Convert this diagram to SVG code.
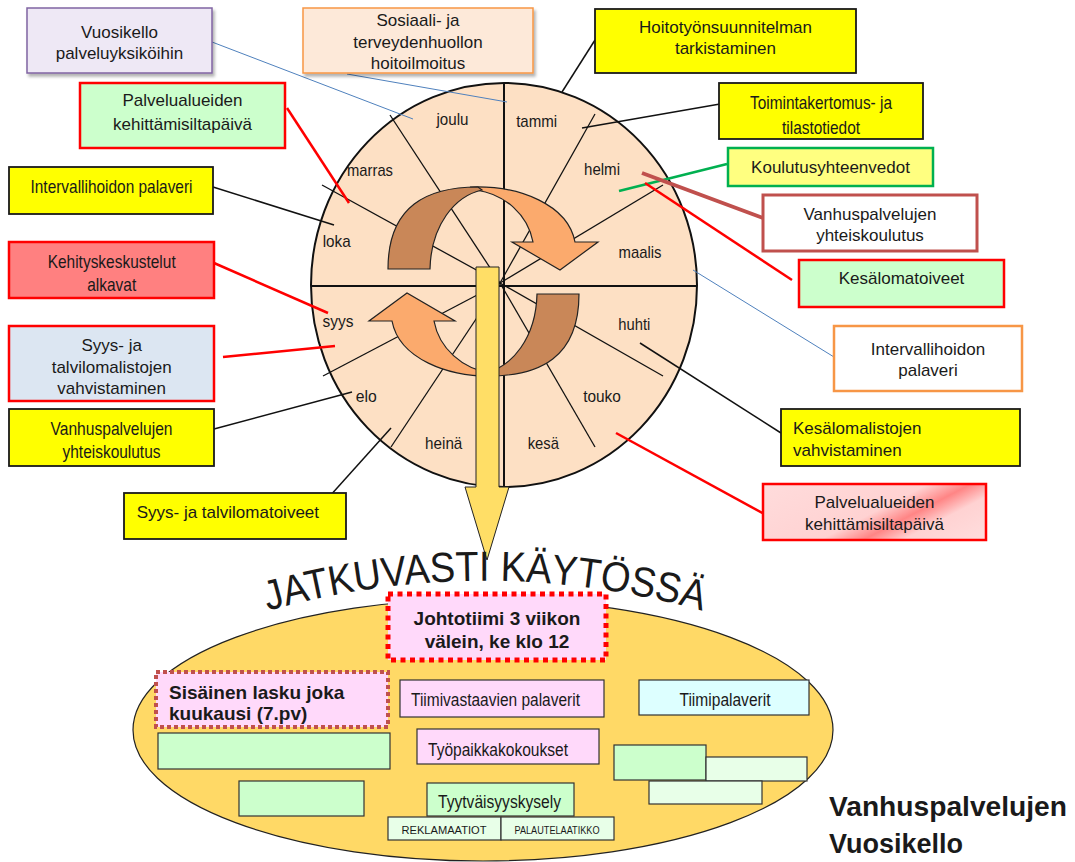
<svg xmlns="http://www.w3.org/2000/svg" width="1075" height="862" viewBox="0 0 1075 862">
<defs>
<style>
text{font-family:"Liberation Sans",Arial,sans-serif;fill:#1a1a1a}
.t{font-size:17px}
.c{text-anchor:middle}
.m{font-size:17px;text-anchor:middle}
.b{font-weight:bold}
.yb{fill:#FFFF00;stroke:#1a1a1a;stroke-width:1.8}
.rb{stroke:#FF0000;stroke-width:2.5}
.sp{stroke:#111;stroke-width:1.3;fill:none}
.k{stroke:#111;stroke-width:1.5;fill:none}
.bl{stroke:#4F81BD;stroke-width:1;fill:none}
.rd{stroke:#FF0000;stroke-width:2.5;fill:none}
.bx{stroke:#333;stroke-width:1.2}
.br{fill:#C98758;stroke:#222;stroke-width:1.2}
.or{fill:#FBAA6D;stroke:#222;stroke-width:1.2}
</style>
<filter id="sh" x="-10%" y="-10%" width="130%" height="140%"><feDropShadow dx="2" dy="3" stdDeviation="1.5" flood-color="#000" flood-opacity="0.3"/></filter>
<linearGradient id="pg" gradientUnits="userSpaceOnUse" x1="763" y1="484" x2="833" y2="619">
<stop offset="0" stop-color="#FFDCDC"/><stop offset="0.5" stop-color="#FFD2D2"/><stop offset="0.63" stop-color="#FF8585"/><stop offset="0.75" stop-color="#FFD2D2"/><stop offset="1" stop-color="#FFDEDE"/>
</linearGradient>
<path id="arc" d="M220,626 A800,800 0 0 1 750,626"/>
<g id="carrow">
<path class="or" d="M470,187 C520,185 568,205 575,242 L598,242 L560,270 L512,242 L533,242 C528,215 505,194 476,190 Z"/>
<path class="br" d="M388,269 C388,205 428,187 478,187 L482,190 C455,196 431,225 430,269 Z"/>
</g>
</defs>

<g id="wheel">
<ellipse cx="504" cy="285" rx="193" ry="202" fill="#FDE0C4" stroke="#111" stroke-width="2"/>
<line class="sp" x1="390" y1="115" x2="500" y2="283"/>
<line class="sp" x1="322" y1="185" x2="500" y2="283"/>
<line class="sp" x1="323" y1="376" x2="500" y2="283"/>
<line class="sp" x1="391" y1="447" x2="500" y2="283"/>
<line class="sp" x1="595" y1="447" x2="500" y2="283"/>
<line class="sp" x1="663" y1="376" x2="500" y2="283"/>
<line class="sp" x1="663" y1="185" x2="500" y2="283"/>
<line class="sp" x1="595" y1="114" x2="500" y2="283"/>
<line x1="311" y1="286" x2="697" y2="286" stroke="#111" stroke-width="2"/>
<line x1="504" y1="83" x2="504" y2="487" stroke="#111" stroke-width="2"/>
<use href="#carrow"/>
<use href="#carrow" transform="rotate(180 483.5 281.5)"/>
<path d="M476,267 L499,267 L499,487 L509,487 L487,560 L465,487 L476,487 Z" fill="#FFDE66" stroke="#222" stroke-width="1"/>
<text class="m" x="452.5" y="125" textLength="32" lengthAdjust="spacingAndGlyphs">joulu</text>
<text class="m" x="536.7" y="126.5" textLength="41" lengthAdjust="spacingAndGlyphs">tammi</text>
<text class="m" x="370" y="176" textLength="46" lengthAdjust="spacingAndGlyphs">marras</text>
<text class="m" x="602" y="175" textLength="36" lengthAdjust="spacingAndGlyphs">helmi</text>
<text class="m" x="336.7" y="246.7" textLength="28" lengthAdjust="spacingAndGlyphs">loka</text>
<text class="m" x="640" y="258" textLength="43" lengthAdjust="spacingAndGlyphs">maalis</text>
<text class="m" x="338" y="327" textLength="31" lengthAdjust="spacingAndGlyphs">syys</text>
<text class="m" x="634.3" y="330" textLength="32" lengthAdjust="spacingAndGlyphs">huhti</text>
<text class="m" x="366.3" y="401.7" textLength="21" lengthAdjust="spacingAndGlyphs">elo</text>
<text class="m" x="602" y="401.7" textLength="37.7" lengthAdjust="spacingAndGlyphs">touko</text>
<text class="m" x="443.7" y="449" textLength="37.3" lengthAdjust="spacingAndGlyphs">heinä</text>
<text class="m" x="543.3" y="449" textLength="31.3" lengthAdjust="spacingAndGlyphs">kesä</text>
</g>

<g id="connectors">
<line class="bl" x1="212" y1="42" x2="413" y2="119"/>
<line class="bl" x1="347" y1="74" x2="507" y2="102"/>
<line class="k" x1="595" y1="40" x2="562" y2="92"/>
<line class="k" x1="720" y1="104" x2="582" y2="128"/>
<line x1="727" y1="164" x2="619" y2="191" stroke="#00B050" stroke-width="2.5"/>
<line x1="763" y1="218" x2="642" y2="173" stroke="#C0504D" stroke-width="4"/>
<line class="rd" x1="792" y1="280" x2="645" y2="183"/>
<line class="bl" x1="693" y1="270" x2="834" y2="357"/>
<line class="k" x1="640" y1="343" x2="781" y2="433"/>
<line class="rd" x1="616" y1="433" x2="766" y2="515"/>
<line class="k" x1="329" y1="497" x2="391" y2="428"/>
<line class="k" x1="214" y1="429" x2="352" y2="392"/>
<line class="rd" x1="223" y1="357" x2="335" y2="346"/>
<line class="rd" x1="214" y1="263" x2="328" y2="313"/>
<line class="k" x1="213" y1="187" x2="334" y2="225"/>
<line class="rd" x1="287" y1="108" x2="349" y2="203"/>
</g>

<g id="n-vuosikello">
<rect x="27" y="8" width="185" height="65" fill="#EEE8F5" stroke="#8064A2" stroke-width="1.5" filter="url(#sh)"/>
<text class="t c" x="119.5" y="38">Vuosikello</text>
<text class="t c" x="119.5" y="59">palveluyksiköihin</text>
</g>
<g id="n-sosiaali">
<rect x="303" y="8" width="230" height="65" fill="#FDE9D9" stroke="#F79646" stroke-width="1.5" filter="url(#sh)"/>
<text class="t c" x="418" y="26">Sosiaali- ja</text>
<text class="t c" x="418" y="48">terveydenhuollon</text>
<text class="t c" x="418" y="69">hoitoilmoitus</text>
</g>
<g id="n-hoitotyo">
<rect class="yb" x="595" y="9" width="261" height="64"/>
<text class="t c" x="725.5" y="33">Hoitotyönsuunnitelman</text>
<text class="t c" x="725.5" y="54">tarkistaminen</text>
</g>
<g id="n-toimintakertomus">
<rect class="yb" x="719" y="83" width="204" height="56"/>
<text class="c" font-size="19" x="821" y="108.5" textLength="142" lengthAdjust="spacingAndGlyphs">Toimintakertomus- ja</text>
<text class="c" font-size="19" x="821" y="133.5" textLength="78" lengthAdjust="spacingAndGlyphs">tilastotiedot</text>
</g>
<g id="n-koulutus">
<rect x="728" y="148" width="205" height="38" fill="#FFFF80" stroke="#00B050" stroke-width="2.5"/>
<text class="t c" x="830.5" y="173">Koulutusyhteenvedot</text>
</g>
<g id="n-vanhus-r">
<rect x="763" y="195" width="214" height="56" fill="#FFFFFF" stroke="#C0504D" stroke-width="3"/>
<text class="t c" x="870" y="219.5">Vanhuspalvelujen</text>
<text class="t c" x="870" y="241">yhteiskoulutus</text>
</g>
<g id="n-kesalomatoiveet">
<rect class="rb" x="799" y="260" width="205" height="47" fill="#CCFFCC"/>
<text class="t c" x="901.5" y="284">Kesälomatoiveet</text>
</g>
<g id="n-interval-r">
<rect x="834" y="326" width="188" height="65" fill="#FFFFFF" stroke="#F79646" stroke-width="2.5"/>
<text class="t c" x="928" y="355">Intervallihoidon</text>
<text class="t c" x="928" y="375.5">palaveri</text>
</g>
<g id="n-kesalomalistat">
<rect class="yb" x="781" y="409" width="239" height="57"/>
<text class="t" x="793" y="434">Kesälomalistojen</text>
<text class="t" x="793" y="456">vahvistaminen</text>
</g>
<g id="n-palvelu-r">
<rect class="rb" x="763" y="484" width="223" height="56" fill="url(#pg)"/>
<text class="t c" x="874.5" y="508">Palvelualueiden</text>
<text class="t c" x="874.5" y="530">kehittämisiltapäivä</text>
</g>
<g id="n-palvelu-l">
<rect class="rb" x="80" y="83" width="205" height="65" fill="#CCFFCC"/>
<text class="t c" x="182.5" y="106">Palvelualueiden</text>
<text class="t c" x="182.5" y="129.5">kehittämisiltapäivä</text>
</g>
<g id="n-interval-l">
<rect class="yb" x="9" y="167" width="204" height="47"/>
<text class="c" font-size="19" x="111.5" y="193.4" textLength="162" lengthAdjust="spacingAndGlyphs">Intervallihoidon palaveri</text>
</g>
<g id="n-kehitys">
<rect class="rb" x="9" y="242" width="205" height="56" fill="#FF8080"/>
<text class="c" font-size="18.5" x="111.7" y="268" textLength="128" lengthAdjust="spacingAndGlyphs">Kehityskeskustelut</text>
<text class="c" font-size="18.5" x="111.7" y="291" textLength="49" lengthAdjust="spacingAndGlyphs">alkavat</text>
</g>
<g id="n-syyslistat">
<rect class="rb" x="9" y="326" width="205" height="75" fill="#DCE6F2"/>
<text class="t c" x="111.7" y="351">Syys- ja</text>
<text class="t c" x="111.7" y="372.7">talvilomalistojen</text>
<text class="t c" x="111.7" y="394.3">vahvistaminen</text>
</g>
<g id="n-vanhus-l">
<rect class="yb" x="9" y="409" width="205" height="57"/>
<text class="c" font-size="18.5" x="111.5" y="434.8" textLength="122" lengthAdjust="spacingAndGlyphs">Vanhuspalvelujen</text>
<text class="c" font-size="18.5" x="111.5" y="458.2" textLength="98" lengthAdjust="spacingAndGlyphs">yhteiskoulutus</text>
</g>
<g id="n-syystoiveet">
<rect class="yb" x="124" y="493" width="222" height="46"/>
<text class="t" x="136.7" y="518">Syys- ja talvilomatoiveet</text>
</g>

<g id="n-jatkuvasti">
<ellipse cx="483" cy="730" rx="350" ry="131" fill="#FFD966" stroke="#222" stroke-width="1.2"/>
<text font-size="42"><textPath href="#arc" startOffset="50%" text-anchor="middle" textLength="440" lengthAdjust="spacingAndGlyphs">JATKUVASTI KÄYTÖSSÄ</textPath></text>
</g>
<g id="n-johtotiimi">
<rect x="388" y="594" width="218" height="66" fill="#FFD9FA" stroke="#FF0000" stroke-width="5" stroke-dasharray="5 4.5"/>
<text class="c b" font-size="19" x="497" y="625">Johtotiimi 3 viikon</text>
<text class="c b" font-size="19" x="497" y="648">välein, ke klo 12</text>
</g>
<g id="n-sisainen">
<rect x="156" y="672" width="232" height="55" fill="#FFD9FA" stroke="#C0504D" stroke-width="4" stroke-dasharray="4 3"/>
<text class="b" font-size="19" x="169" y="698.5">Sisäinen lasku joka</text>
<text class="b" font-size="19" x="169" y="720">kuukausi (7.pv)</text>
</g>
<g id="n-tiimivastaavien">
<rect class="bx" x="400" y="680" width="204" height="37" fill="#FFD9FA"/>
<text class="c" font-size="17.5" x="495.5" y="705.5" textLength="169" lengthAdjust="spacingAndGlyphs">Tiimivastaavien palaverit</text>
</g>
<g id="n-tiimipalaverit">
<rect class="bx" x="639" y="680" width="170" height="35" fill="#DDFFFF"/>
<text class="c" font-size="17.5" x="725" y="705.5" textLength="91" lengthAdjust="spacingAndGlyphs">Tiimipalaverit</text>
</g>
<g id="n-tyopaikka">
<rect class="bx" x="417" y="729" width="182" height="35" fill="#FFD9FA"/>
<text class="c" font-size="17.5" x="498" y="755.5" textLength="140" lengthAdjust="spacingAndGlyphs">Työpaikkakokoukset</text>
</g>
<g id="n-green-big">
<rect class="bx" x="158" y="733" width="232" height="36" fill="#CCFFCC"/>
</g>
<g id="n-green-small">
<rect class="bx" x="239" y="781" width="125" height="35" fill="#CCFFCC"/>
</g>
<g id="n-tyytyvaisyys">
<rect class="bx" x="427" y="783" width="147" height="33" fill="#CCFFCC"/>
<text class="c" font-size="17.5" x="499.5" y="808" textLength="123" lengthAdjust="spacingAndGlyphs">Tyytväisyyskysely</text>
</g>
<g id="n-reklamaatiot">
<rect class="bx" x="388" y="817" width="113" height="23" fill="#E8FFE8"/>
<text class="c" font-size="11" x="444" y="834" textLength="85" lengthAdjust="spacingAndGlyphs">REKLAMAATIOT</text>
</g>
<g id="n-palautelaatikko">
<rect class="bx" x="501" y="817" width="113" height="23" fill="#E8FFE8"/>
<text class="c" font-size="11" x="557" y="834" textLength="85" lengthAdjust="spacingAndGlyphs">PALAUTELAATIKKO</text>
</g>
<g id="n-green-stack">
<rect class="bx" x="614" y="745" width="92" height="35" fill="#CCFFCC"/>
<rect class="bx" x="706" y="757" width="101" height="24" fill="#E8FFE8"/>
<rect class="bx" x="649" y="781" width="113" height="23" fill="#E8FFE8"/>
</g>
<g id="n-title">
<text class="b" font-size="27" x="829" y="816" textLength="238" lengthAdjust="spacingAndGlyphs">Vanhuspalvelujen</text>
<text class="b" font-size="27" x="829" y="853">Vuosikello</text>
</g>
</svg>
